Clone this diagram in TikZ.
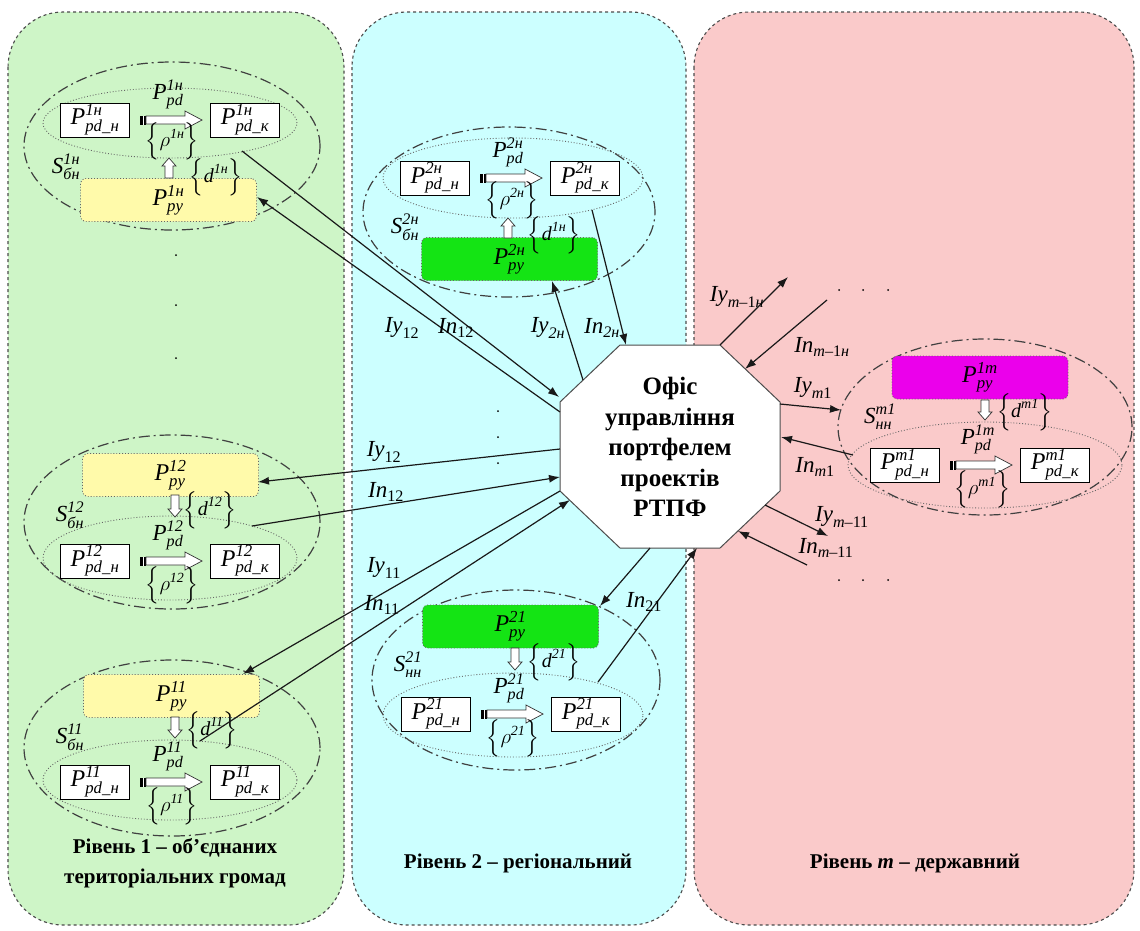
\documentclass[tikz,border=0pt]{standalone}
\usepackage{amsmath}
\usepackage{fontspec}
\setmainfont{Liberation Serif}
\usetikzlibrary{arrows.meta,shapes.geometric}
\definecolor{pgreen}{RGB}{206,245,199}
\definecolor{pcyan}{RGB}{204,255,255}
\definecolor{ppink}{RGB}{250,202,202}
\definecolor{byellow}{RGB}{255,250,170}
\definecolor{bgreen}{RGB}{20,228,20}
\definecolor{bmag}{RGB}{235,0,235}
\newcommand\lblP[3]{$\textit{#1}^{\textit{#2}}_{\textit{#3}}$}
\newcommand\lblBr[2]{$\Big\{#1^{\textit{#2}}\Big\}$}
\newcommand\hollowV[4]{%
  \draw[hol] ({#1-4},#2) -- ({#1-4},#3) -- ({#1-7},#3) -- (#1,#4) -- ({#1+7},#3) -- ({#1+4},#3) -- ({#1+4},#2) -- cycle;}
\newcommand\blockrow[6]{%
  \node[pbox] (#1L) at ({#2-76},#3) {\lblP{P}{#4}{pd\_н}};
  \node[pbox] (#1R) at ({#2+74},#3) {\lblP{P}{#4}{pd\_к}};
  \fill[black] ({#2-31},{#3-4.5}) rectangle ({#2-25},{#3+4.5});
  \fill[white] ({#2-28},{#3-4.5}) rectangle ({#2-27},{#3+4.5});
  \draw[hol] ({#2-25},{#3-4}) -- ({#2+14},{#3-4}) -- ({#2+14},{#3-9}) -- ({#2+31},#3) -- ({#2+14},{#3+9}) -- ({#2+14},{#3+4}) -- ({#2-25},{#3+4}) -- cycle;
  \node[lab] (#1pd) at ({#2-3},{#3-26}) {\lblP{P}{#5}{pd}};
  \node[brlab] (#1rho) at ({#2+1},{#3+#6}) {\lblBr{\rho}{#4}};
}
\begin{document}
\begin{tikzpicture}[x=1pt,y=-1pt,
  panel/.style={draw=black!70, dashed, line width=1.1pt, rounded corners=55pt},
  outerell/.style={ellipse, draw=black!75, dash pattern=on 11pt off 4pt on 2pt off 4pt, line width=1.2pt, inner sep=0},
  innerell/.style={ellipse, draw=black!60, dotted, line width=0.9pt, inner sep=0},
  pbox/.style={draw=black, line width=0.8pt, fill=white, minimum width=69pt, minimum height=34pt, inner sep=0, font=\fontsize{24}{26}\selectfont},
  cbox/.style={draw=black!60, dotted, line width=0.9pt, rounded corners=5pt, minimum width=176pt, minimum height=43pt, inner sep=0, font=\fontsize{24}{26}\selectfont},
  lab/.style={inner sep=0, font=\fontsize{23}{26}\selectfont},
  brlab/.style={inner sep=0, font=\fontsize{20}{22}\selectfont},
  conlab/.style={inner sep=0, font=\fontsize{23}{26}\selectfont},
  conn/.style={draw=black!90, line width=1.2pt, -{Latex[length=11pt,width=8pt]}},
  hol/.style={draw=black!80, fill=white, line width=0.7pt},
  lvl/.style={font=\fontsize{21}{30}\selectfont\bfseries, align=center, inner sep=0},
  dotm/.style={circle, fill=black, inner sep=0, minimum size=2pt}
]
\useasboundingbox (0,0) rectangle (1140,930);
\fill[white] (0,0) rectangle (1140,930);
% panels
\draw[panel, fill=pgreen] (8,12) rectangle (344,925);
\draw[panel, fill=pcyan] (352,12) rectangle (686,925);
\draw[panel, fill=ppink] (694,12) rectangle (1134,925);

% ---------- group 1n
\node[outerell, minimum width=296pt, minimum height=168pt] (O1n) at (172,146) {};
\node[innerell, minimum width=254pt, minimum height=70pt] (I1n) at (170,123) {};
\node[cbox, fill=byellow] (Y1n) at (168.5,200) {\lblP{P}{1н}{py}};
\blockrow{a}{171}{120}{1н}{1н}{21}
\hollowV{169}{178}{166}{158}
\node[brlab] (d1n) at (216,177) {\lblBr{\textit{d}}{1н}};
\node[lab] (S1n) at (66,167) {\lblP{S}{1н}{бн}};

% ---------- group 2n
\node[outerell, minimum width=292pt, minimum height=170pt] (O2n) at (509,212) {};
\node[innerell, minimum width=260pt, minimum height=80pt] (I2n) at (513,178) {};
\node[cbox, fill=bgreen] (G2n) at (509.5,259) {\lblP{P}{2н}{py}};
\blockrow{b}{511}{178}{2н}{2н}{22}
\hollowV{508}{238}{226}{218}
\node[brlab] (d2n) at (554,235) {\lblBr{\textit{d}}{1н}};
\node[lab] (S2n) at (405,227) {\lblP{S}{2н}{бн}};

% ---------- group 12
\node[outerell, minimum width=296pt, minimum height=174pt] (O12) at (172,522) {};
\node[innerell, minimum width=254pt, minimum height=84pt] (I12) at (170,558) {};
\node[cbox, fill=byellow] (Y12) at (170.5,475) {\lblP{P}{12}{py}};
\blockrow{c}{171}{561}{12}{12}{24}
\hollowV{175}{495}{509}{517}
\node[brlab] (d12) at (210,510) {\lblBr{\textit{d}}{12}};
\node[lab] (S12) at (70,515) {\lblP{S}{12}{бн}};

% ---------- group 11
\node[outerell, minimum width=296pt, minimum height=176pt] (O11) at (172,748) {};
\node[innerell, minimum width=254pt, minimum height=80pt] (I11) at (170,780) {};
\node[cbox, fill=byellow] (Y11) at (171.5,696) {\lblP{P}{11}{py}};
\blockrow{d}{171}{782}{11}{11}{24}
\hollowV{175}{717}{730}{738}
\node[brlab] (d11) at (212,730) {\lblBr{\textit{d}}{11}};
\node[lab] (S11) at (70,737) {\lblP{S}{11}{бн}};

% ---------- group 21
\node[outerell, minimum width=288pt, minimum height=180pt] (O21) at (516,680) {};
\node[innerell, minimum width=260pt, minimum height=84pt] (I21) at (513,715) {};
\node[cbox, fill=bgreen] (G21) at (510.5,626.5) {\lblP{P}{21}{py}};
\blockrow{e}{512}{714}{21}{21}{24}
\hollowV{515}{648}{662}{670}
\node[brlab] (d21) at (554,662) {\lblBr{\textit{d}}{21}};
\node[lab] (S21) at (408,665) {\lblP{S}{21}{нн}};

% ---------- group m1
\node[outerell, minimum width=294pt, minimum height=176pt] (Om1) at (985,427) {};
\node[innerell, minimum width=274pt, minimum height=86pt] (Im1) at (985,465) {};
\node[cbox, fill=bmag] (Mm1) at (980,377.5) {\lblP{P}{1m}{py}};
\blockrow{f}{981}{465}{m1}{1m}{24}
\hollowV{985}{400}{412}{420}
\node[brlab] (dm1) at (1025,412) {\lblBr{\textit{d}}{m1}};
\node[lab] (Sm1) at (880,417) {\lblP{S}{m1}{нн}};

% ---------- office octagon
\draw[fill=white, draw=black!70, line width=1pt] (620,345) -- (720,345) -- (780,402) -- (780,491) -- (720,548) -- (620,548) -- (560,491) -- (560,402) -- cycle;
\node[align=center, inner sep=0, font=\fontsize{25}{30.5}\selectfont\bfseries] (office) at (670,447) {Офіс\\управління\\портфелем\\проектів\\РТПФ};

% ---------- connector end points
\coordinate (p1nIn) at (242,151);
\coordinate (o1nIn) at (559,397);
\coordinate (o1nIy) at (560,412);
\coordinate (p1nIy) at (257,197);
\coordinate (o12Iy) at (560,449);
\coordinate (p12Iy) at (258,482);
\coordinate (p12In) at (252,526);
\coordinate (o12In) at (560,477);
\coordinate (o11Iy) at (560,491);
\coordinate (p11Iy) at (243,674);
\coordinate (p11In) at (200,741);
\coordinate (o11In) at (570,500);
\coordinate (o2nIy) at (583,380);
\coordinate (p2nIy) at (552,281);
\coordinate (p2nIn) at (592,210);
\coordinate (o2nIn) at (626,345);
\coordinate (o21In) at (650,548);
\coordinate (p21In) at (600,606);
\coordinate (p21x) at (598,682);
\coordinate (o21x) at (697,548);
\coordinate (omnIy) at (720,345);
\coordinate (pmnIy) at (788,277);
\coordinate (pmnIn) at (827,300);
\coordinate (omnIn) at (745,369);
\coordinate (om1Iy) at (780,404);
\coordinate (pm1Iy) at (841,410);
\coordinate (pm1In) at (853,455);
\coordinate (om1In) at (781,437);
\coordinate (om11Iy) at (765,505);
\coordinate (pm11Iy) at (828,536);
\coordinate (pm11In) at (807,565);
\coordinate (om11In) at (738,531);

\draw[conn] (p1nIn) -- (o1nIn);
\draw[conn] (o1nIy) -- (p1nIy);
\draw[conn] (o12Iy) -- (p12Iy);
\draw[conn] (p12In) -- (o12In);
\draw[conn] (o11Iy) -- (p11Iy);
\draw[conn] (p11In) -- (o11In);
\draw[conn] (o2nIy) -- (p2nIy);
\draw[conn] (p2nIn) -- (o2nIn);
\draw[conn] (o21In) -- (p21In);
\draw[conn] (p21x) -- (o21x);
\draw[conn] (omnIy) -- (pmnIy);
\draw[conn] (pmnIn) -- (omnIn);
\draw[conn] (om1Iy) -- (pm1Iy);
\draw[conn] (pm1In) -- (om1In);
\draw[conn] (om11Iy) -- (pm11Iy);
\draw[conn] (pm11In) -- (om11In);

% ---------- connector labels
\node[conlab] (tIy12a) at (402,328) {$\textit{Iy}_{\text{12}}$};
\node[conlab] (tIn12a) at (456,328) {$\textit{In}_{\text{12}}$};
\node[conlab] (tIy2n) at (548,328) {$\textit{Iy}_{\textit{2н}}$};
\node[conlab] (tIn2n) at (602,328) {$\textit{In}_{\textit{2н}}$};
\node[conlab] (tIy12b) at (384,452) {$\textit{Iy}_{\text{12}}$};
\node[conlab] (tIn12b) at (386,492) {$\textit{In}_{\text{12}}$};
\node[conlab] (tIy11) at (384,568) {$\textit{Iy}_{\text{11}}$};
\node[conlab] (tIn11) at (382,605) {$\textit{In}_{\text{11}}$};
\node[conlab] (tIn21) at (644,602) {$\textit{In}_{\text{21}}$};
\node[conlab] (tIymn) at (737,297) {$\textit{Iy}_{\textit{m}\text{–1}\textit{н}}$};
\node[conlab] (tInmn) at (822,347) {$\textit{In}_{\textit{m}\text{–1}\textit{н}}$};
\node[conlab] (tIym1) at (813,388) {$\textit{Iy}_{\textit{m}\text{1}}$};
\node[conlab] (tInm1) at (815,467) {$\textit{In}_{\textit{m}\text{1}}$};
\node[conlab] (tIym11) at (842,517) {$\textit{Iy}_{\textit{m}\text{–11}}$};
\node[conlab] (tInm11) at (826,548) {$\textit{In}_{\textit{m}\text{–11}}$};

% ---------- dots
\node[dotm] (dl1) at (176,255) {};
\node[dotm] (dl2) at (176,305) {};
\node[dotm] (dl3) at (176,358) {};
\node[dotm] (dc1) at (498,411) {};
\node[dotm] (dc2) at (498,437) {};
\node[dotm] (dc3) at (498,463) {};
\node[dotm] (dr1) at (839,290) {};
\node[dotm] (dr2) at (863,290) {};
\node[dotm] (dr3) at (888,290) {};
\node[dotm] (dr4) at (839,580) {};
\node[dotm] (dr5) at (863,580) {};
\node[dotm] (dr6) at (888,580) {};

% ---------- level labels
\node[lvl] (L1) at (175,863) {Рівень 1 – об’єднаних\\територіальних громад};
\node[lvl] (L2) at (518,863) {Рівень 2 – регіональний};
\node[lvl] (Lm) at (915,863) {Рівень \textit{m} – державний};
\end{tikzpicture}
\end{document}
